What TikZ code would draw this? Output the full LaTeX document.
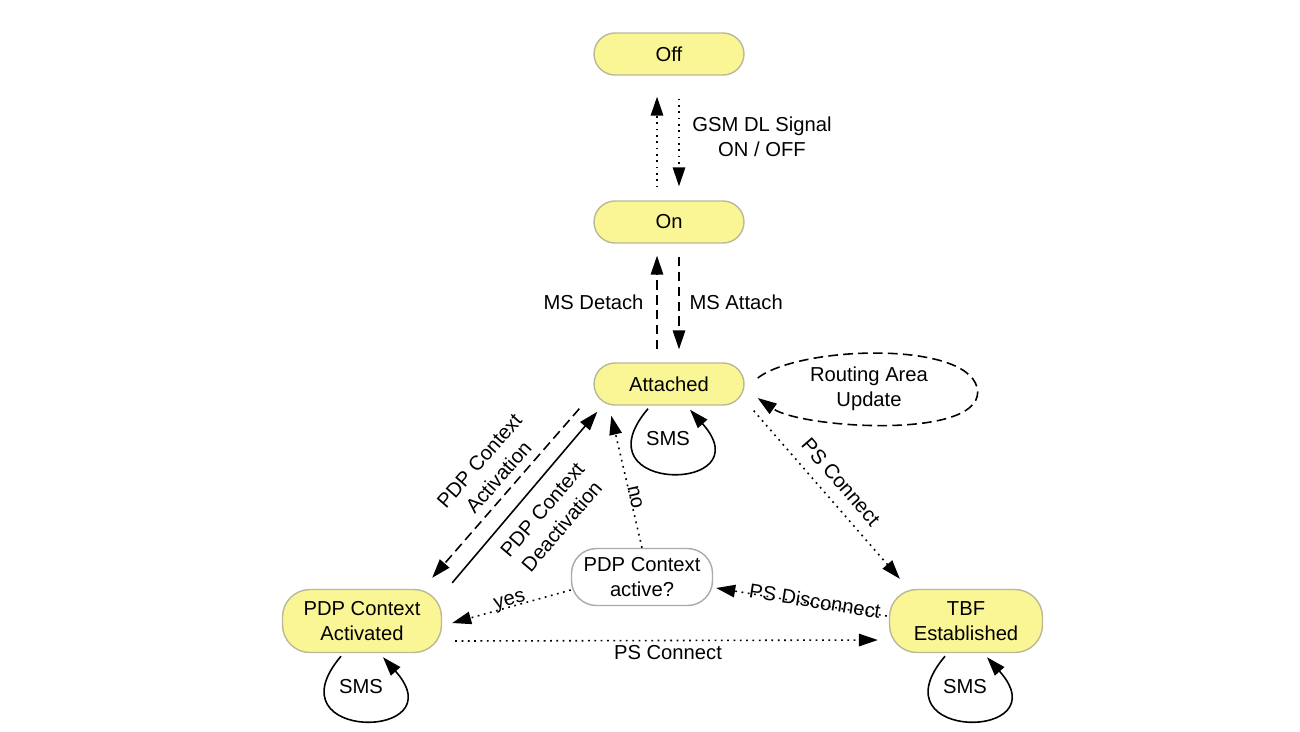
\documentclass[tikz,border=0pt]{standalone}
\usepackage{fontspec}
\setmainfont{Liberation Sans}
\usetikzlibrary{arrows.meta}

\definecolor{statefill}{RGB}{250,246,150}
\definecolor{stateline}{RGB}{185,185,150}
\definecolor{checkline}{RGB}{170,170,170}
\newcommand\lblfont{\fontsize{11.5}{14.5}\selectfont}

\begin{document}
\begin{tikzpicture}[x=0.02cm, y=-0.02cm, >={Triangle[length=3.8mm,width=2.5mm]},
    line width=0.9pt,
    state/.style={rectangle, rounded corners=0.42cm, draw=stateline, fill=statefill, line width=0.8pt,
      minimum width=3cm, minimum height=0.84cm, align=center, font=\lblfont},
    check/.style={rectangle, rounded corners=0.5cm, draw=checkline, fill=white, line width=0.8pt,
      minimum width=2.82cm, minimum height=1.14cm, align=center, font=\lblfont},
    edge label/.style={font=\lblfont, align=center, inner sep=1pt},
    dotline/.style={dash pattern=on 1pt off 2.6pt},
    dashline/.style={dash pattern=on 5.5pt off 3pt}
]
  \useasboundingbox (0,0) rectangle (1300,731);

  % states
  \node[state] (off) at (669,54) {Off};
  \node[state] (on) at (669,222) {On};
  \node[state] (att) at (669,384) {Attached};
  \node[state, rounded corners=0.55cm, minimum width=3.18cm, minimum height=1.26cm] (pdpa) at (362,621) {PDP Context\\Activated};
  \node[state, rounded corners=0.55cm, minimum width=3.06cm, minimum height=1.26cm] (tbf) at (966,621) {TBF\\Established};
  \node[check] (chk) at (642,577) {PDP Context\\active?};

  % off / on
  \draw[dotline,->,shorten <=0.26cm,shorten >=0.42cm] ([xshift=-0.24cm]on.north) -- ([xshift=-0.24cm]off.south);
  \draw[dotline,->,shorten <=0.46cm,shorten >=0.28cm] ([xshift=0.2cm]off.south) -- ([xshift=0.2cm]on.north);
  \node[edge label] (gsm) at (762,137) {GSM DL Signal\\ON / OFF};

  % on / attached
  \draw[dashline,->,shorten <=0.26cm,shorten >=0.24cm] ([xshift=-0.24cm]att.north) -- ([xshift=-0.24cm]on.south);
  \draw[dashline,->,shorten <=0.26cm,shorten >=0.26cm] ([xshift=0.2cm]on.south) -- ([xshift=0.2cm]att.north);
  \node[edge label, anchor=east] (detach) at (646,302) {MS Detach};
  \node[edge label, anchor=west] (attach) at (687,302) {MS Attach};

  % routing area update
  \node[edge label] (rau) at (869,389) {Routing Area\\Update};
  \draw[dashline,->] ([shift={(13,-6)}]att.east) .. controls +(43,-33) and +(-2,-52) .. ([shift={(233,8)}]att.east)
    .. controls +(0,48) and +(43,30) .. ([shift={(13,14)}]att.east);

  % attached / pdp context activated
  \draw[dashline,->] ([shift={(-14,3)}]att.south west) -- ([shift={(-10,-11)}]pdpa.north east);
  \draw[->] ([shift={(10,-6)}]pdpa.north east) -- ([shift={(4,6)}]att.south west);
  \node[edge label, rotate=48.8] (act) at (489,469) {PDP Context\\Activation};
  \node[edge label, rotate=49.5] (deact) at (552,518) {PDP Context\\Deactivation};

  % pdp context check
  \draw[dotline,->] (chk.north) -- ([shift={(18,10)}]att.south west);
  \node[edge label, rotate=-77] (no) at (635,497) {no};
  \draw[dotline,->] ([yshift=-0.26cm]chk.west) -- ([shift={(10,2)}]pdpa.east);
  \node[edge label, rotate=15] (yes) at (510,602) {yes};
  \draw[dotline,->] ([shift={(-2,-5)}]tbf.west) -- ([shift={(3,11)}]chk.east);
  \node[edge label, rotate=-9] (disc) at (815,601) {PS Disconnect};

  % ps connect
  \draw[dotline,->] ([shift={(9,5)}]att.south east) -- ([shift={(11,-10)}]tbf.north west);
  \node[edge label, rotate=-49] (conn1) at (841,482) {PS Connect};
  \draw[dotline,->] ([shift={(13,20)}]pdpa.east) -- ([shift={(-11,19)}]tbf.west);
  \node[edge label] (conn2) at (668,653) {PS Connect};

  % sms loops
  \foreach \n in {att,pdpa,tbf}{
    \draw[->] ([shift={(-21,3)}]\n.south) .. controls +(-73,86) and +(75,84) .. ([shift={(21,4)}]\n.south);
    \node[edge label] (sms-\n) at ([shift={(-1,33)}]\n.south) {SMS};
  }
\end{tikzpicture}
\end{document}
